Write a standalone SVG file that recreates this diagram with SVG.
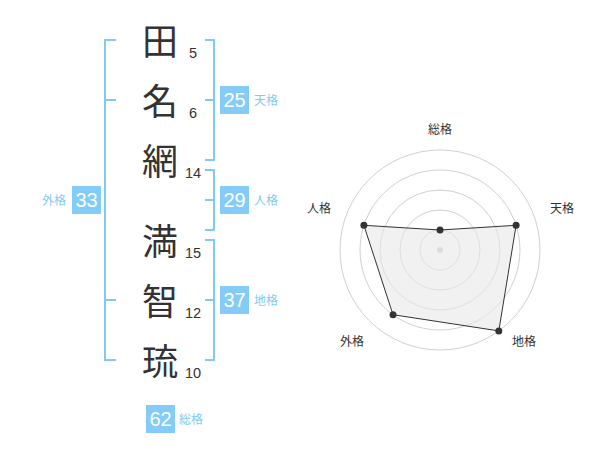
<svg xmlns="http://www.w3.org/2000/svg" width="600" height="470" viewBox="0 0 600 470">
<style>
.kanji{font-family:"Noto Sans CJK JP","Noto Sans CJK SC",sans-serif;font-size:36px;fill:#333;text-anchor:middle}
.stroke{font-family:"Liberation Sans",Arial,sans-serif;font-size:14.5px;fill:#333;text-anchor:middle}
.br{fill:none;stroke:#7fcaf5;stroke-width:2}
.box{fill:#82ccf7}
.num{font-family:"Liberation Sans",Arial,sans-serif;font-size:20px;fill:#fff;text-anchor:middle}
.lab{font-family:"Noto Sans CJK JP",sans-serif;font-size:12px;fill:#7fcaf5}
.ring{fill:none;stroke:#d0d0d0;stroke-width:1}
.rlab{font-family:"Noto Sans CJK JP",sans-serif;font-size:12px;fill:#333;text-anchor:middle}
.dot{fill:#333}
</style>
<rect width="600" height="470" fill="#fff"/>
<g id="chars">
<g id="c1"><text class="kanji" x="160" y="55">田</text><text class="stroke" x="193" y="58">5</text></g>
<g id="c2"><text class="kanji" x="160" y="115">名</text><text class="stroke" x="193" y="118">6</text></g>
<g id="c3"><text class="kanji" x="160" y="175">網</text><text class="stroke" x="193" y="178">14</text></g>
<g id="c4"><text class="kanji" x="160" y="255">満</text><text class="stroke" x="193" y="258">15</text></g>
<g id="c5"><text class="kanji" x="160" y="315">智</text><text class="stroke" x="193" y="318">12</text></g>
<g id="c6"><text class="kanji" x="160" y="375">琉</text><text class="stroke" x="193" y="378">10</text></g>
</g>
<g id="connectors">
<path class="br" d="M116,40 H105 V360 H116 M105,100 H116 M105,300 H116"/>
<path class="br" d="M205,40 H214 V160 H205 M214,100 H205"/>
<path class="br" d="M205,170 H214 V230 H205 M214,200 H205"/>
<path class="br" d="M205,240 H214 V360 H205 M214,300 H205"/>
</g>
<g id="gaikaku"><rect class="box" x="72" y="186" width="29" height="28"/><text class="num" x="86.5" y="207.3">33</text><text class="lab" x="66" y="205" text-anchor="end">外格</text></g>
<g id="tenkaku"><rect class="box" x="220" y="86" width="29" height="28"/><text class="num" x="234.5" y="107.3">25</text><text class="lab" x="254" y="105">天格</text></g>
<g id="jinkaku"><rect class="box" x="220" y="186" width="29" height="28"/><text class="num" x="234.5" y="207.3">29</text><text class="lab" x="254" y="205">人格</text></g>
<g id="chikaku"><rect class="box" x="220" y="286" width="29" height="28"/><text class="num" x="234.5" y="307.3">37</text><text class="lab" x="254" y="305">地格</text></g>
<g id="soukaku"><rect class="box" x="146" y="405" width="29" height="28"/><text class="num" x="160.5" y="426.3">62</text><text class="lab" x="179" y="424">総格</text></g>
<g id="radar">
<circle class="ring" cx="440" cy="250" r="20"/>
<circle class="ring" cx="440" cy="250" r="40"/>
<circle class="ring" cx="440" cy="250" r="60"/>
<circle class="ring" cx="440" cy="250" r="80"/>
<circle class="ring" cx="440" cy="250" r="100"/>
<circle cx="440" cy="250" r="3" fill="#ccc"/>
<polygon points="440,230 516.1,225.3 498.8,330.9 393,314.7 363.9,225.3" fill="#e8e8e8" fill-opacity="0.6" stroke="#333" stroke-width="1"/>
<circle class="dot" cx="440" cy="230" r="3.5"/>
<circle class="dot" cx="516.1" cy="225.3" r="3.5"/>
<circle class="dot" cx="498.8" cy="330.9" r="3.5"/>
<circle class="dot" cx="393" cy="314.7" r="3.5"/>
<circle class="dot" cx="363.9" cy="225.3" r="3.5"/>
<text class="rlab" x="440" y="134">総格</text>
<text class="rlab" x="562" y="213">天格</text>
<text class="rlab" x="319" y="213">人格</text>
<text class="rlab" x="352" y="346">外格</text>
<text class="rlab" x="524" y="346">地格</text>
</g>
</svg>
